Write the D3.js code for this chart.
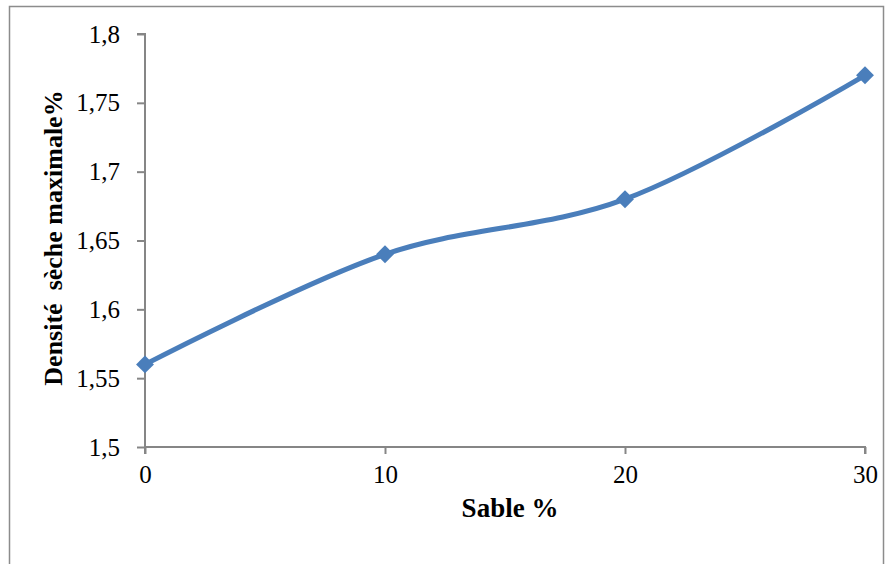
<!DOCTYPE html>
<html>
<head>
<meta charset="utf-8">
<script src="https://cdn.jsdelivr.net/npm/d3@7"></script>
<style>
  body { margin: 0; background: #fff; }
  text { font-family: "Liberation Serif", "Times New Roman", serif; fill: #000; }
</style>
</head>
<body>
<div id="chart"></div>
<script>
const sable = [0, 10, 20, 30];
const densite = [1.56, 1.64, 1.68, 1.77];
const xTicks = [0, 10, 20, 30];
const yTicks = [1.5, 1.55, 1.6, 1.65, 1.7, 1.75, 1.8];

const width = 892, height = 564;
const margin = {top: 34, right: 27, bottom: 117, left: 145};

const svg = d3.select("#chart")
    .append("svg")
    .attr("width", width)
    .attr("height", height);

// chart frame
svg.append("rect")
    .attr("x", 9.5).attr("y", 6.5)
    .attr("width", 874).attr("height", 600)
    .attr("fill", "none")
    .attr("stroke", "#8c8c8c")
    .attr("stroke-width", 1.5);

const x = d3.scaleLinear().domain([0, 30]).range([margin.left, width - margin.right]);
const y = d3.scaleLinear().domain([1.5, 1.8]).range([height - margin.bottom, margin.top]);

const fmt = d => String(d).replace(".", ",");

const yAxis = svg.append("g")
    .attr("transform", `translate(${margin.left},0)`)
    .call(d3.axisLeft(y).tickValues(yTicks).tickFormat(fmt).tickSize(8).tickPadding(17));

const xAxis = svg.append("g")
    .attr("transform", `translate(0,${height - margin.bottom})`)
    .call(d3.axisBottom(x).tickValues(xTicks).tickFormat(fmt).tickSize(7).tickPadding(11));

[yAxis, xAxis].forEach(g => {
    g.selectAll("path, line").attr("stroke", "#868686").attr("stroke-width", 2);
    g.selectAll("text")
        .style("font-family", '"Liberation Serif", serif')
        .style("font-size", "25px")
        .attr("fill", "#000");
});
yAxis.select(".domain").attr("d", `M-8,${y(1.8)}H0V${y(1.5)}`);
xAxis.select(".domain").attr("d", `M${x(0)},7V0H${x(30)}V7`);

const line = d3.line()
    .x((d, i) => x(sable[i]))
    .y(d => y(d))
    .curve(d3.curveCardinal.tension(0));

svg.append("path")
    .datum(densite)
    .attr("fill", "none")
    .attr("stroke", "#4a7ebb")
    .attr("stroke-width", 5)
    .attr("stroke-linejoin", "round")
    .attr("d", line);

// diamond markers
svg.selectAll(".marker")
    .data(densite)
    .enter()
    .append("path")
    .attr("class", "marker")
    .attr("transform", (d, i) => `translate(${x(sable[i])},${y(d)}) rotate(45)`)
    .attr("d", d3.symbol(d3.symbolSquare, 160))
    .attr("fill", "#4a7ebb");

svg.append("text")
    .attr("x", 510)
    .attr("y", 517)
    .attr("text-anchor", "middle")
    .style("font-size", "27px")
    .style("font-weight", "bold")
    .text("Sable %");

svg.append("text")
    .attr("transform", "translate(62,238) rotate(-90)")
    .attr("text-anchor", "middle")
    .style("font-size", "26px")
    .style("font-weight", "bold")
    .style("white-space", "pre")
    .text("Densité  sèche maximale%");
</script>
</body>
</html>
